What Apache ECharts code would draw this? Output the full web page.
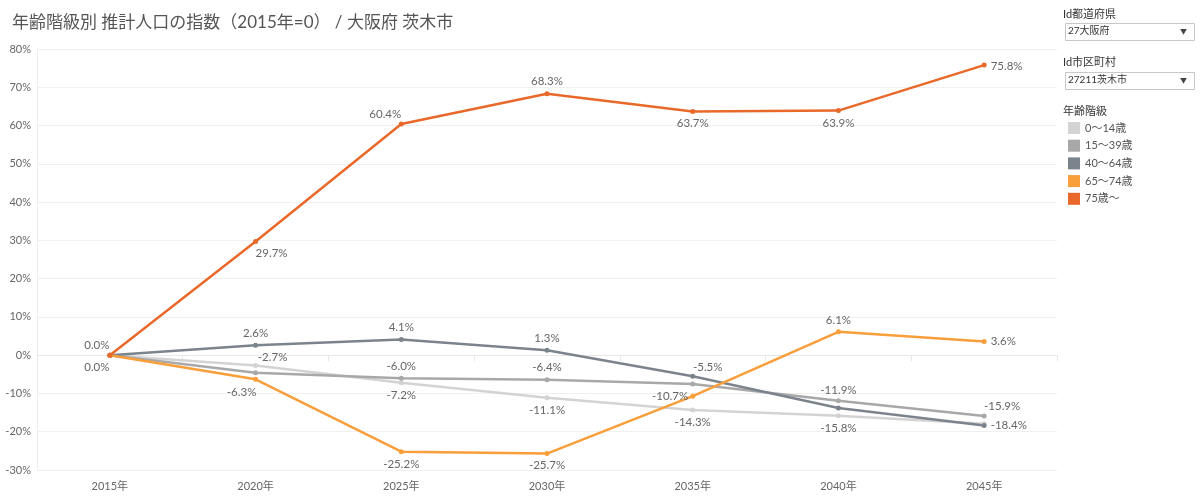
<!DOCTYPE html>
<html>
<head>
<meta charset="utf-8">
<script src="https://cdn.jsdelivr.net/npm/echarts@6/dist/echarts.min.js"></script>
<style>
html,body{margin:0;padding:0;background:#fff;}
#chart{width:1200px;height:498px;}
</style>
</head>
<body>
<div id="chart"></div>
<script>
const titleText = '年齢階級別 推計人口の指数（2015年=0） / 大阪府 茨木市';
const categories = ['2015年','2020年','2025年','2030年','2035年','2040年','2045年'];
const yTicks = [-30,-20,-10,0,10,20,30,40,50,60,70,80];
const seriesNames = ['0〜14歳','15〜39歳','40〜64歳','65〜74歳','75歳〜'];
const age0_14  = [0, -2.7, -7.2, -11.1, -14.3, -15.8, -17.9];
const age15_39 = [0, -4.6, -6.0, -6.4, -7.5, -11.9, -15.9];
const age40_64 = [0, 2.6, 4.1, 1.3, -5.5, -13.8, -18.4];
const age65_74 = [0, -6.3, -25.2, -25.7, -10.7, 6.1, 3.6];
const age75up  = [0, 29.7, 60.4, 68.3, 63.7, 63.9, 75.8];
const prefLabel = 'Id都道府県', prefValue = '27大阪府';
const cityLabel = 'Id市区町村', cityValue = '27211茨木市';
const legendTitle = '年齢階級';

const colors = ['#D3D3D3','#A8A8A8','#7B848D','#F89E3A','#E8692A'];
const values = [age0_14, age15_39, age40_64, age65_74, age75up];

// label placement per series/point (null = hidden)
const labelPlace = [
  [null, {p:'top', o:[17,4]}, {p:'bottom'}, {p:'bottom'}, {p:'bottom'}, {p:'bottom'}, null],
  [null, null, {p:'top'}, {p:'top'}, null, {p:'top', o:[0,2]}, {p:'top', o:[18,3]}],
  [null, {p:'top'}, {p:'top'}, {p:'top'}, {p:'top', o:[15,3]}, null, {p:'right'}],
  [{p:'bottom', o:[-13,0]}, {p:'bottom', o:[-14,1]}, {p:'bottom'}, {p:'bottom'}, {p:'left', o:[2,0]}, {p:'top', o:[0,1]}, {p:'right'}],
  [{p:'top', o:[-13,2]}, {p:'bottom', o:[16,0]}, {p:'top', o:[-16,3]}, {p:'top'}, {p:'bottom'}, {p:'bottom'}, {p:'right', o:[0,1]}]
];

const FONT = 'Lato, "Noto Sans CJK JP", sans-serif';

const series = seriesNames.map((name, si) => ({
  name: name,
  type: 'line',
  data: values[si].map((v, i) => {
    const lp = labelPlace[si][i];
    return {
      value: v,
      label: lp ? {show: true, position: lp.p, offset: lp.o || [0,0]} : {show: false}
    };
  }),
  symbol: 'circle',
  symbolSize: 5,
  lineStyle: {width: 2.5, color: colors[si]},
  itemStyle: {color: colors[si]},
  label: {
    color: '#666', fontSize: 11.5, fontFamily: FONT, distance: 4,
    formatter: p => p.value.toFixed(1) + '%'
  },
  emphasis: {disabled: true},
  animation: false,
  z: 2 + (si === 4 ? 3 : si === 3 ? 2 : 0)
}));

const chart = echarts.init(document.getElementById('chart'));
chart.setOption({
  backgroundColor: '#fff',
  animation: false,
  title: {
    text: titleText, left: 7, top: 9,
    textStyle: {fontSize: 17, fontWeight: 'normal', color: '#555', fontFamily: FONT}
  },
  legend: {
    orient: 'vertical', left: 1063, top: 117,
    itemWidth: 12, itemHeight: 12, itemGap: 5.7, icon: 'rect',
    data: seriesNames,
    textStyle: {fontSize: 11, color: '#555', fontFamily: FONT},
    selectedMode: false
  },
  grid: {left: 37, right: 143, top: 49, bottom: 28, containLabel: false},
  xAxis: {
    type: 'category', data: categories, boundaryGap: true, offset: 3,
    axisLine: {show: true, lineStyle: {color: '#e8e8e8', width: 1}},
    axisTick: {show: true, length: 6, lineStyle: {color: '#e8e8e8'}},
    axisLabel: {color: '#666', fontSize: 11, fontFamily: FONT, margin: 8}
  },
  yAxis: {
    type: 'value', min: yTicks[0], max: yTicks[yTicks.length-1], interval: 10,
    axisLine: {show: true, lineStyle: {color: '#eeeeee'}},
    axisTick: {show: false},
    splitLine: {lineStyle: {color: '#f0f0f0', width: 1}},
    axisLabel: {color: '#666', fontSize: 11, fontFamily: FONT, margin: 6, formatter: v => v + '%'}
  },
  graphic: [
    {type: 'text', left: 1063, top: 9, style: {text: prefLabel, fontSize: 11, fill: '#333', fontFamily: FONT}},
    {type: 'rect', shape: {x: 1065.5, y: 23.5, width: 129, height: 17}, style: {fill: '#fff', stroke: '#c8c8c8', lineWidth: 1}},
    {type: 'text', left: 1068, top: 26, style: {text: prefValue, fontSize: 10, fill: '#333', fontFamily: FONT}},
    {type: 'text', left: 1180, top: 28, style: {text: '▼', fontSize: 7, fill: '#444', fontFamily: FONT}},
    {type: 'text', left: 1063, top: 57, style: {text: cityLabel, fontSize: 11, fill: '#333', fontFamily: FONT}},
    {type: 'rect', shape: {x: 1065.5, y: 72.5, width: 129, height: 17}, style: {fill: '#fff', stroke: '#c8c8c8', lineWidth: 1}},
    {type: 'text', left: 1068, top: 75, style: {text: cityValue, fontSize: 10, fill: '#333', fontFamily: FONT}},
    {type: 'text', left: 1180, top: 77, style: {text: '▼', fontSize: 7, fill: '#444', fontFamily: FONT}},
    {type: 'text', left: 1063, top: 106, style: {text: legendTitle, fontSize: 11, fill: '#333', fontFamily: FONT}}
  ],
  series: series
});
</script>
</body>
</html>
